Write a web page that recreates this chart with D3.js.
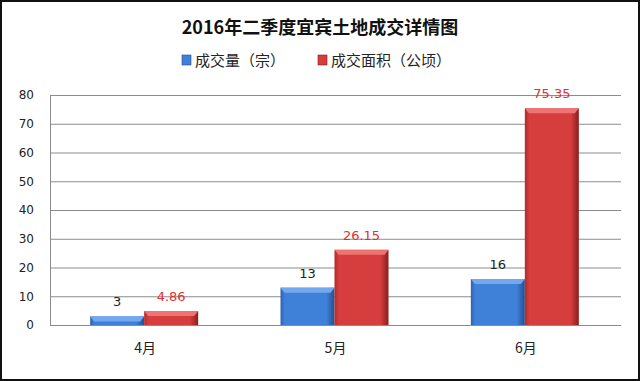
<!DOCTYPE html>
<html><head><meta charset="utf-8">
<script src="https://cdn.jsdelivr.net/npm/d3@7"></script>
<style>body{margin:0;background:#fff}svg{display:block}</style>
</head><body><svg id="c" width="640" height="381"></svg>
<script>
const title = "2016年二季度宜宾土地成交详情图";
const categories = ["4月", "5月", "6月"];
const seriesNames = ["成交量（宗）", "成交面积（公顷）"];
const countValues = [3, 13, 16];
const areaValues = [4.86, 26.15, 75.35];
const countLabels = ["3", "13", "16"];
const areaLabels = ["4.86", "26.15", "75.35"];
const yTicks = [0, 10, 20, 30, 40, 50, 60, 70, 80];

const svg = d3.select("#c");
const W = 640, H = 381;
const m = {l: 50, r: 19, t: 95, b: 56};
const font = "'Noto Sans CJK SC', 'DejaVu Sans', sans-serif";

svg.append("rect").attr("x", 1).attr("y", 1).attr("width", W - 2).attr("height", H - 2)
  .attr("fill", "#fff").attr("stroke", "#111").attr("stroke-width", 2);

const defs = svg.append("defs");
function grad(id, c0, c1, c2) {
  const g = defs.append("linearGradient").attr("id", id).attr("x1", 0).attr("x2", 1).attr("y1", 0).attr("y2", 0);
  g.append("stop").attr("offset", "0%").attr("stop-color", c0);
  g.append("stop").attr("offset", "8%").attr("stop-color", c1);
  g.append("stop").attr("offset", "85%").attr("stop-color", c1);
  g.append("stop").attr("offset", "100%").attr("stop-color", c2);
}
grad("gb", "#2f62b0", "#3f80d8", "#234f8f");
grad("gr", "#b02a2a", "#d63d3d", "#8a1d1d");

const x = d3.scaleBand().domain(categories).range([m.l, W - m.r]).paddingInner(0).paddingOuter(0);
const y = d3.scaleLinear().domain([0, 80]).range([H - m.b, m.t]);
const bw = 54;
const sub = d3.scaleBand().domain([0, 1]).range([0, bw * 2]);

// gridlines
svg.append("g").selectAll("line").data(yTicks).join("line")
  .attr("x1", m.l).attr("x2", W - m.r)
  .attr("y1", d => y(d) + 0.5).attr("y2", d => y(d) + 0.5)
  .attr("stroke", "#8c8c8c").attr("stroke-width", 1);
svg.append("line").attr("x1", m.l + 0.5).attr("x2", m.l + 0.5).attr("y1", m.t).attr("y2", y(0))
  .attr("stroke", "#8c8c8c");

// y axis labels
const yAxis = d3.axisLeft(y).tickValues(yTicks).tickSize(0).tickPadding(16);
const ya = svg.append("g").attr("transform", `translate(${m.l},0)`).call(yAxis);
ya.select(".domain").remove();
ya.selectAll("text").attr("font-family", "'DejaVu Sans', sans-serif").attr("font-size", 12).attr("fill", "#222");

// x axis labels
const xAxis = d3.axisBottom(x).tickSize(0).tickPadding(18);
const xa = svg.append("g").attr("transform", `translate(0,${y(0)})`).call(xAxis);
xa.select(".domain").remove();
xa.selectAll("text").attr("font-family", font).attr("font-size", 14).attr("fill", "#222");

const series = [
  {vals: countValues, labels: countLabels, fill: "url(#gb)", top: "#74a8ee", lc: "#222"},
  {vals: areaValues, labels: areaLabels, fill: "url(#gr)", top: "#ee7474", lc: "#e03030"}
];
series.forEach((s, si) => {
  const g = svg.append("g");
  categories.forEach((c, i) => {
    const cx = x(c) + x.bandwidth() / 2 - 1;
    const bx = cx - bw + sub(si);
    const by = y(s.vals[i]);
    const bh = y(0) - by;
    g.append("rect").attr("x", bx).attr("y", by).attr("width", bw).attr("height", bh).attr("fill", s.fill);
    const bev = Math.min(5, bh);
    g.append("path")
      .attr("d", `M${bx},${by}L${bx + bw},${by}L${bx + bw - 4},${by + bev}L${bx + 4},${by + bev}Z`)
      .attr("fill", s.top);
    g.append("text").attr("x", bx + bw / 2).attr("y", by - 10)
      .attr("text-anchor", "middle").attr("font-family", "'DejaVu Sans', sans-serif")
      .attr("font-size", 13).attr("fill", s.lc).text(s.labels[i]);
  });
});

// title
svg.append("text").attr("x", 320).attr("y", 34).attr("text-anchor", "middle")
  .attr("font-family", font).attr("font-weight", "bold").attr("font-size", 18).attr("fill", "#111").text(title);

// legend
const lg = svg.append("g");
const legendX = [182, 318];
const legendColors = ["#3f80d8", "#d63d3d"];
seriesNames.forEach((n, i) => {
  lg.append("rect").attr("x", legendX[i]).attr("y", 55).attr("width", 9).attr("height", 10)
    .attr("fill", legendColors[i]).attr("stroke", i ? "#8a1d1d" : "#234f8f").attr("stroke-width", 0.6);
  lg.append("text").attr("x", legendX[i] + 13).attr("y", 66)
    .attr("font-family", font).attr("font-size", 15).attr("fill", "#222").text(n);
});
</script></body></html>
